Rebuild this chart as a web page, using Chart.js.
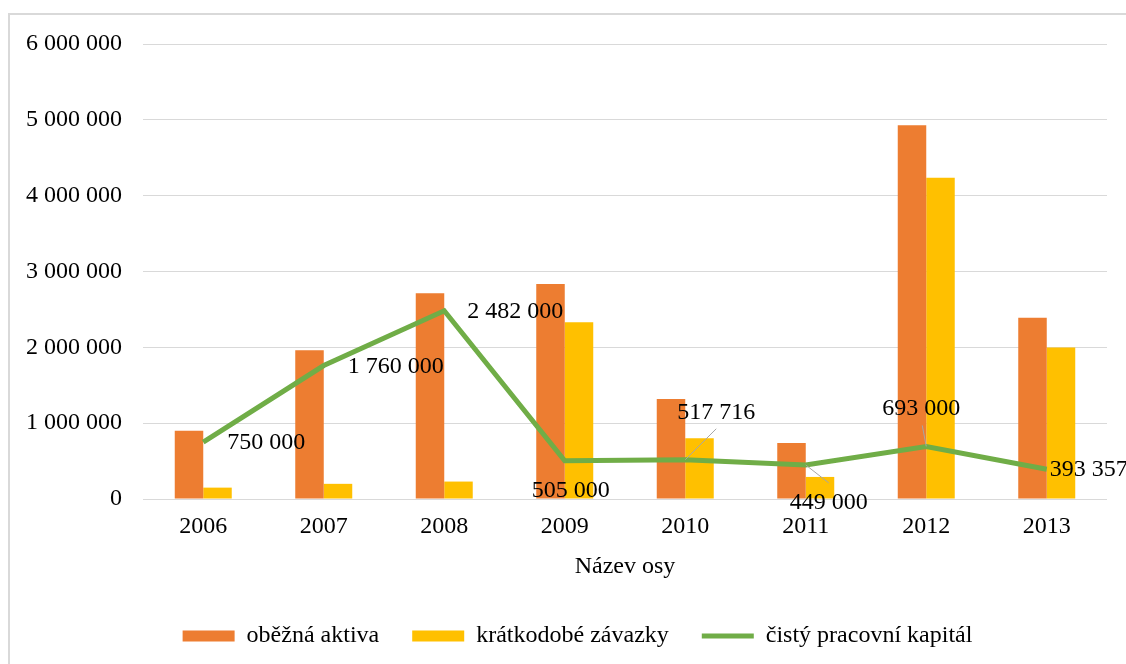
<!DOCTYPE html>
<html>
<head>
<meta charset="utf-8">
<script src="https://cdn.jsdelivr.net/npm/chart.js@4/dist/chart.umd.min.js"></script>
<style>
  html,body{margin:0;padding:0;background:#fff;overflow:hidden}
  #wrap{width:1126px;height:664px;position:relative}
</style>
</head>
<body>
<div id="wrap"><canvas id="c" width="1126" height="664"></canvas></div>
<script>
const years = ['2006','2007','2008','2009','2010','2011','2012','2013'];
const obeznaAktiva = [900000, 1960000, 2712000, 2835000, 1320000, 740000, 4930000, 2390000];
const kratkodobeZavazky = [150000, 200000, 230000, 2330000, 802284, 291000, 4237000, 1996643];
const cistyPracovniKapital = [750000, 1760000, 2482000, 505000, 517716, 449000, 693000, 393357];
const yTicks = [0, 1000000, 2000000, 3000000, 4000000, 5000000, 6000000];

const FONT = "'Liberation Serif', 'Times New Roman', serif";
const fmt = n => String(n).replace(/\B(?=(\d{3})+(?!\d))/g, ' ');

// where each label of the line sits relative to its point
const lineLabels = [
  {dx:24, dy:1,  align:'left'},
  {dx:24, dy:1,  align:'left'},
  {dx:23, dy:1,  align:'left'},
  {dx:6,  dy:30, align:'center'},
  {dx:31, dy:-47, align:'center', leader:[31,-31]},
  {dx:23, dy:38, align:'center', leader:[23,18]},
  {dx:-5, dy:-38, align:'center', leader:[-4,-21]},
  {dx:3,  dy:1,  align:'left'}
];

const frame = {
  id:'frame',
  beforeDraw(chart){
    const ctx = chart.ctx;
    ctx.save();
    ctx.strokeStyle = '#d9d9d9';
    ctx.lineWidth = 2;
    ctx.strokeRect(9, 14, 1300, 800);
    ctx.restore();
  }
};

// the legend in the original sits a little right of the plot centre
const legendShift = {
  id:'legendShift',
  afterLayout(chart){
    chart.legend.left += 14;
    chart.legend.right += 14;
  }
};

const valueLabels = {
  id:'valueLabels',
  afterDatasetsDraw(chart){
    const ctx = chart.ctx;
    const idx = chart.data.datasets.findIndex(d => d.type === 'line');
    const meta = chart.getDatasetMeta(idx);
    ctx.save();
    ctx.font = '24px ' + FONT;
    ctx.fillStyle = '#000';
    ctx.textBaseline = 'middle';
    meta.data.forEach((pt, i) => {
      const l = lineLabels[i];
      if (l.leader){
        ctx.strokeStyle = '#a6a6a6';
        ctx.lineWidth = 1;
        ctx.beginPath();
        ctx.moveTo(pt.x, pt.y);
        ctx.lineTo(pt.x + l.leader[0], pt.y + l.leader[1]);
        ctx.stroke();
      }
      ctx.textAlign = l.align;
      ctx.fillText(fmt(cistyPracovniKapital[i]), pt.x + l.dx, pt.y + l.dy);
    });
    ctx.restore();
  }
};

new Chart(document.getElementById('c'), {
  type:'bar',
  data:{
    labels: years,
    datasets:[
      { label:'oběžná aktiva', data:obeznaAktiva, backgroundColor:'#ed7d31', order:1 },
      { label:'krátkodobé závazky', data:kratkodobeZavazky, backgroundColor:'#ffc000', order:1 },
      { type:'line', label:'čistý pracovní kapitál', data:cistyPracovniKapital,
        borderColor:'#70ad47', backgroundColor:'#70ad47', borderWidth:5,
        pointRadius:0, tension:0, order:0 }
    ]
  },
  options:{
    responsive:false,
    animation:false,
    categoryPercentage:0.473,
    barPercentage:1,
    layout:{ padding:{ left:20, right:19, top:44, bottom:6 } },
    plugins:{
      tooltip:{enabled:false},
      legend:{
        position:'bottom',
        labels:{
          usePointStyle:true,
          pointStyleWidth:52,
          boxHeight:11,
          padding:33,
          color:'#000',
          font:{family:FONT, size:24},
          generateLabels(chart){
            const items = Chart.defaults.plugins.legend.labels.generateLabels(chart);
            items.sort((a,b) => a.datasetIndex - b.datasetIndex);
            return items.map(it => {
              const ds = chart.data.datasets[it.datasetIndex];
              if (ds.type === 'line'){ it.pointStyle = 'line'; it.lineWidth = 5; it.strokeStyle = '#70ad47'; }
              else { it.pointStyle = 'rect'; it.lineWidth = 0; }
              return it;
            });
          }
        }
      }
    },
    scales:{
      x:{
        grid:{display:false, drawTicks:false},
        border:{display:false},
        ticks:{color:'#000', font:{family:FONT, size:24}, padding:13},
        title:{display:true, text:'Název osy', color:'#000', font:{family:FONT, size:24}, padding:{top:4, bottom:10}},
        afterFit(s){ s.height = 92; }
      },
      y:{
        min:0, max:6000000,
        afterBuildTicks(s){ s.ticks = yTicks.map(v => ({value:v})); },
        grid:{color:'#d9d9d9', lineWidth:1, drawTicks:false},
        border:{display:false},
        ticks:{color:'#000', font:{family:FONT, size:24}, padding:21, callback:v => fmt(v)},
        afterFit(s){ s.width = 123; }
      }
    }
  },
  plugins:[frame, legendShift, valueLabels]
});
</script>
</body>
</html>
